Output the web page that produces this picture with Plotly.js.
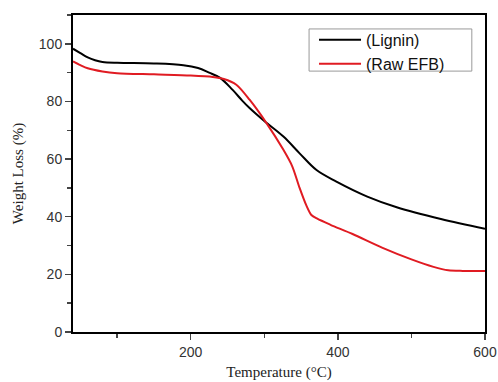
<!DOCTYPE html>
<html><head><meta charset="utf-8">
<script src="https://cdn.plot.ly/plotly-3.0.1.min.js"></script>
<style>body{margin:0;background:#fff}#c{width:498px;height:382px}</style>
</head><body><div id="c"></div>
<script>
const ligninT = [40, 50, 60, 70, 80, 100, 150, 190, 210, 225, 240, 257, 270, 280, 300, 326, 348, 371, 398, 440, 480, 540, 600];
const ligninW = [98.3, 96.8, 95.3, 94.3, 93.7, 93.4, 93.2, 92.6, 91.6, 90.0, 88.2, 84.0, 80.3, 77.7, 73.2, 67.8, 62.0, 56.2, 52.2, 47.0, 43.3, 39.2, 35.8];
const efbT = [40, 50, 60, 80, 100, 150, 200, 230, 245, 262, 280, 303, 326, 338, 348, 357, 364, 372, 390, 420, 460, 500, 530, 550, 570, 600];
const efbW = [93.9, 92.6, 91.5, 90.4, 89.8, 89.4, 89.0, 88.5, 87.8, 85.8, 80.6, 72.5, 63.2, 57.5, 50.0, 44.0, 40.6, 39.3, 37.2, 34.0, 29.3, 25.2, 22.6, 21.4, 21.2, 21.2];
const names = ['(Lignin)', '(Raw EFB)'];

const traces = [
  {x: ligninT, y: ligninW, name: names[0], mode: 'lines', line: {color: '#000', width: 2, shape: 'spline', smoothing: 1}},
  {x: efbT, y: efbW, name: names[1], mode: 'lines', line: {color: '#e01b22', width: 2, shape: 'spline', smoothing: 0.8}}
];
const axFont = {family: 'Liberation Sans, Arial, sans-serif', size: 14, color: '#333'};
const layout = {
  width: 498, height: 382,
  margin: {l: 73, r: 13, t: 15, b: 50},
  paper_bgcolor: '#fff', plot_bgcolor: '#fff',
  showlegend: true,
  legend: {x: 0.585, y: 0.975, xanchor: 'left', yanchor: 'top', borderwidth: 0,
    font: {family: 'Liberation Sans, Arial, sans-serif', size: 16, color: '#111'}, tracegroupgap: 0, bgcolor: 'rgba(0,0,0,0)',
    itemwidth: 42},
  shapes: [{type: 'rect', xref: 'paper', yref: 'paper', x0: 0.573, x1: 0.968, y0: 0.823, y1: 0.956,
    line: {color: '#999', width: 1}, fillcolor: 'rgba(0,0,0,0)', layer: 'below'}],
  xaxis: {range: [40, 600], tick0: 0, dtick: 200, ticks: 'outside', ticklen: 6, tickwidth: 1.5,
    showline: true, linewidth: 2, linecolor: '#000', mirror: true, showgrid: false, zeroline: false,
    tickfont: axFont,
    minor: {dtick: 100, ticks: 'outside', ticklen: 4, tickwidth: 1.5, showgrid: false},
    title: {text: 'Temperature (°C)', font: {family: 'Liberation Serif, Times New Roman, serif', size: 15, color: '#222'}, standoff: 8}},
  yaxis: {range: [0, 110], tick0: 0, dtick: 20, ticks: 'outside', ticklen: 6, tickwidth: 1.5,
    showline: true, linewidth: 2, linecolor: '#000', mirror: true, showgrid: false, zeroline: false,
    tickfont: axFont,
    minor: {dtick: 10, ticks: 'outside', ticklen: 4, tickwidth: 1.5, showgrid: false},
    title: {text: 'Weight Loss (%)', font: {family: 'Liberation Serif, Times New Roman, serif', size: 15, color: '#222'}, standoff: 12}}
};
Plotly.newPlot('c', traces, layout, {displayModeBar: false, staticPlot: true});
</script></body></html>
